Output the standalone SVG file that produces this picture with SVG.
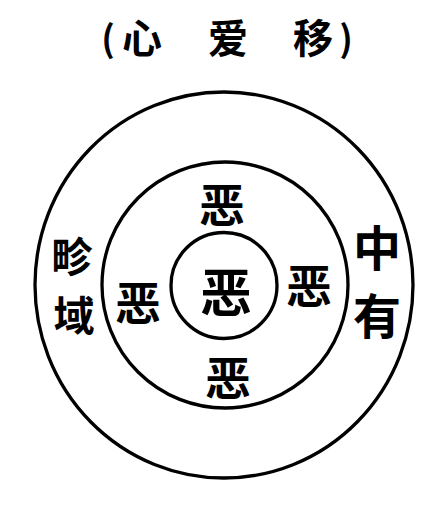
<svg xmlns="http://www.w3.org/2000/svg" width="431" height="526" viewBox="0 0 431 526">
<style>
.ring{fill:none;stroke:#000;stroke-width:3.3}
.t{font-family:"Noto Sans CJK SC","Noto Sans CJK TC",sans-serif;font-weight:bold;fill:#000;text-anchor:middle;dominant-baseline:central}
</style>
<rect width="431" height="526" fill="#fff"/>
<g id="title">
<text class="t" x="108" y="36" font-size="36" font-weight="normal">(</text>
<text class="t" x="142" y="36" font-size="40">心</text>
<text class="t" x="228" y="36" font-size="40">爱</text>
<text class="t" x="313" y="36" font-size="40">移</text>
<text class="t" x="346" y="36" font-size="36" font-weight="normal">)</text>
</g>
<g id="outer-ring">
<ellipse class="ring" cx="224" cy="285" rx="189" ry="193"/>
<text class="t" x="72" y="254" font-size="41">畛</text>
<text class="t" x="74" y="313" font-size="41">域</text>
<text class="t" x="377" y="245" font-size="48">中</text>
<text class="t" x="377" y="313" font-size="48">有</text>
</g>
<g id="middle-ring">
<circle class="ring" cx="225" cy="285" r="123"/>
<text class="t" x="222" y="202" font-size="46">恶</text>
<text class="t" x="309" y="283" font-size="46">恶</text>
<text class="t" x="138" y="300" font-size="46">恶</text>
<text class="t" x="228" y="375" font-size="46">恶</text>
</g>
<g id="inner-ring">
<circle class="ring" cx="224" cy="285.5" r="53"/>
<text class="t" x="226" y="289" font-size="52">恶</text>
</g>
</svg>
